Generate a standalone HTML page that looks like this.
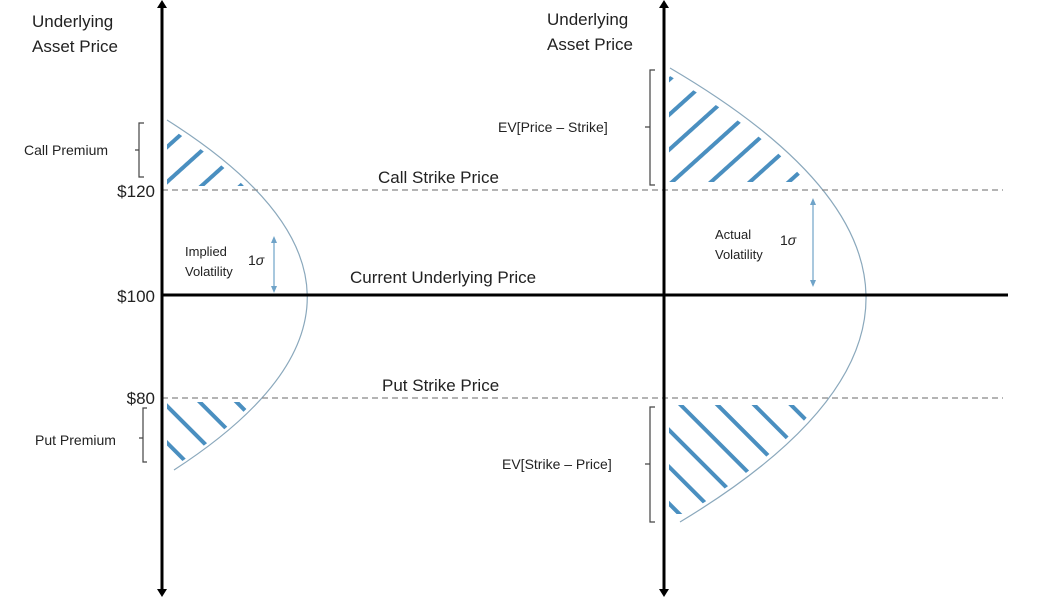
<!DOCTYPE html>
<html><head><meta charset="utf-8"><style>
html,body{margin:0;padding:0;background:#fff;}
svg{display:block;}
text{font-family:"Liberation Sans",sans-serif;fill:#222;}
</style></head><body>
<svg width="1046" height="597" viewBox="0 0 1046 597" xmlns="http://www.w3.org/2000/svg">
<defs>
<pattern id="hu" width="26" height="26" patternUnits="userSpaceOnUse" patternTransform="rotate(-42)">
<line x1="0" y1="13" x2="26" y2="13" stroke="#4a8fc0" stroke-width="4"/>
</pattern>
<pattern id="hd" width="26" height="26" patternUnits="userSpaceOnUse" patternTransform="rotate(45)">
<line x1="0" y1="13" x2="26" y2="13" stroke="#4a8fc0" stroke-width="4"/>
</pattern>
<clipPath id="c1"><rect x="167" y="122" width="200" height="64"/></clipPath>
<clipPath id="c2"><rect x="167" y="402" width="200" height="60"/></clipPath>
<clipPath id="c3"><rect x="669" y="74" width="300" height="108"/></clipPath>
<clipPath id="c4"><rect x="669" y="405" width="300" height="110"/></clipPath>
</defs>

<!-- hatched regions (inset from curve) -->
<path d="M167,126 Q430,295 178,464 L166,464 L166,126 Z" fill="url(#hu)" clip-path="url(#c1)"/>
<path d="M167,126 Q430,295 178,464 L166,464 L166,126 Z" fill="url(#hd)" clip-path="url(#c2)"/>
<path d="M670,76 Q1040,295 686,514 L668,514 L668,76 Z" fill="url(#hu)" clip-path="url(#c3)"/>
<path d="M670,76 Q1040,295 686,514 L668,514 L668,76 Z" fill="url(#hd)" clip-path="url(#c4)"/>

<!-- curves -->
<path d="M167,120 Q444,295 174,470" fill="none" stroke="#8aa8bc" stroke-width="1.2"/>
<path d="M670,68 Q1057,295 680,522" fill="none" stroke="#8aa8bc" stroke-width="1.2"/>

<!-- dashed strike lines -->
<line x1="162" y1="190" x2="1003" y2="190" stroke="#888" stroke-width="1.3" stroke-dasharray="6 4"/>
<line x1="162" y1="398" x2="1003" y2="398" stroke="#888" stroke-width="1.3" stroke-dasharray="6 4"/>

<!-- current price line -->
<line x1="162" y1="295" x2="1008" y2="295" stroke="#000" stroke-width="3"/>

<!-- axes -->
<line x1="162" y1="6" x2="162" y2="591" stroke="#000" stroke-width="3"/>
<path d="M157,8 L162,0 L167,8 Z M157,589 L162,597 L167,589 Z" fill="#000"/>
<line x1="664" y1="6" x2="664" y2="591" stroke="#000" stroke-width="3"/>
<path d="M659,8 L664,0 L669,8 Z M659,589 L664,597 L669,589 Z" fill="#000"/>

<!-- 1 sigma arrows -->
<line x1="274" y1="241" x2="274" y2="288" stroke="#6fa3c8" stroke-width="1.2"/>
<path d="M271,243 L274,236 L277,243 Z M271,286 L274,293 L277,286 Z" fill="#6fa3c8"/>
<line x1="813" y1="203" x2="813" y2="282" stroke="#6fa3c8" stroke-width="1.2"/>
<path d="M810,205 L813,198 L816,205 Z M810,280 L813,287 L816,280 Z" fill="#6fa3c8"/>

<!-- brackets -->
<g fill="none" stroke="#444" stroke-width="1.2">
<path d="M144,123 L139,123 L139,177 L144,177 M139,150 L135,150"/>
<path d="M147,408 L143,408 L143,462 L147,462 M143,438 L139,438"/>
<path d="M655,70 L650,70 L650,185 L655,185 M650,127 L645,127"/>
<path d="M655,407 L650,407 L650,522 L655,522 M650,464 L645,464"/>
</g>

<!-- text -->
<text x="32" y="27" font-size="17">Underlying</text>
<text x="32" y="52" font-size="17">Asset Price</text>
<text x="547" y="25" font-size="17">Underlying</text>
<text x="547" y="50" font-size="17">Asset Price</text>

<text x="24" y="155" font-size="14">Call Premium</text>
<text x="35" y="445" font-size="14">Put Premium</text>

<text x="155" y="197" font-size="17" text-anchor="end">$120</text>
<text x="155" y="302" font-size="17" text-anchor="end">$100</text>
<text x="155" y="404" font-size="17" text-anchor="end">$80</text>

<text x="378" y="183" font-size="17">Call Strike Price</text>
<text x="350" y="283" font-size="17">Current Underlying Price</text>
<text x="382" y="391" font-size="17">Put Strike Price</text>

<text x="185" y="256" font-size="13">Implied</text>
<text x="185" y="276" font-size="13">Volatility</text>
<text x="248" y="265" font-size="14" font-family="Liberation Serif">1<tspan font-style="italic">σ</tspan></text>

<text x="715" y="239" font-size="13">Actual</text>
<text x="715" y="259" font-size="13">Volatility</text>
<text x="780" y="245" font-size="14" font-family="Liberation Serif">1<tspan font-style="italic">σ</tspan></text>

<text x="498" y="132" font-size="14">EV[Price – Strike]</text>
<text x="502" y="469" font-size="14">EV[Strike – Price]</text>
</svg>
</body></html>
